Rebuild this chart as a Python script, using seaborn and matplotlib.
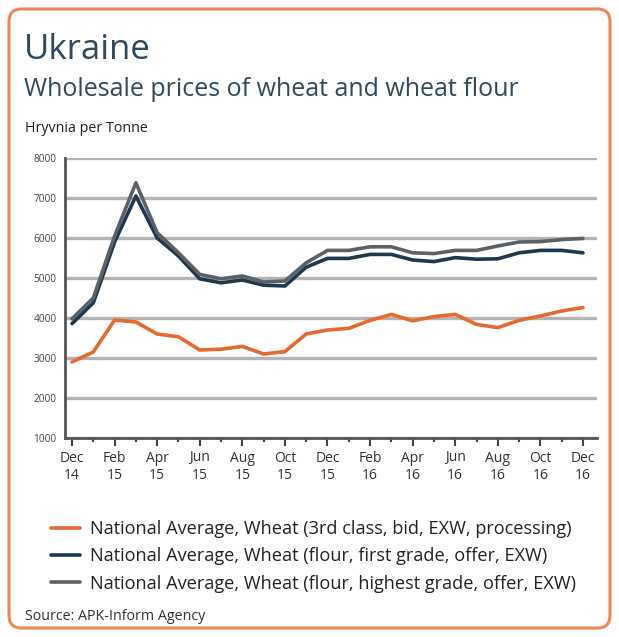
import pandas as pd
import numpy as np
import matplotlib
matplotlib.use("Agg")
import matplotlib.pyplot as plt
import seaborn as sns
from matplotlib.patches import FancyBboxPatch
from matplotlib.ticker import MultipleLocator

# monthly data, Dec 2014 .. Dec 2016 (Hryvnia per tonne)
months = pd.date_range("2014-12-01", "2016-12-01", freq="MS")
wheat_3rd = [2900, 3150, 3950, 3900, 3600, 3530, 3200, 3220, 3290, 3100, 3160, 3600,
             3700, 3740, 3940, 4090, 3930, 4035, 4090, 3840, 3760, 3940, 4050, 4175, 4260]
flour_first = [3860, 4380, 5900, 7050, 6000, 5550, 4980, 4880, 4950, 4820, 4800, 5270,
               5490, 5490, 5590, 5590, 5450, 5410, 5510, 5470, 5480, 5630, 5690, 5690, 5630]
flour_high = [3980, 4500, 6050, 7380, 6130, 5630, 5090, 4980, 5050, 4900, 4925, 5380,
              5690, 5690, 5780, 5780, 5630, 5610, 5690, 5690, 5800, 5900, 5910, 5960, 5990]
series_names = ["National Average, Wheat (3rd class, bid, EXW, processing)",
                "National Average, Wheat (flour, first grade, offer, EXW)",
                "National Average, Wheat (flour, highest grade, offer, EXW)"]
colors = ["#E8692F", "#1E3850", "#5C6067"]
tick_labels = ["Dec\n14", "Feb\n15", "Apr\n15", "Jun\n15", "Aug\n15", "Oct\n15", "Dec\n15",
               "Feb\n16", "Apr\n16", "Jun\n16", "Aug\n16", "Oct\n16", "Dec\n16"]

df = pd.DataFrame({"month": np.arange(len(months)),
                   series_names[0]: wheat_3rd,
                   series_names[1]: flour_first,
                   series_names[2]: flour_high})
long = df.melt(id_vars="month", var_name="series", value_name="price")

sns.set_style("white")
plt.rcParams["font.family"] = ["Open Sans", "DejaVu Sans"]

W, H = 619, 637
fig = plt.figure(figsize=(W / 100, H / 100), dpi=100)

# rounded orange frame
frame = FancyBboxPatch((9 / W, 9 / H), (W - 18) / W, (H - 18) / H,
                       boxstyle="round,pad=0,rounding_size=0.02",
                       transform=fig.transFigure, facecolor="white",
                       edgecolor="#EE8752", linewidth=2.2, zorder=-1)
fig.patches.append(frame)

ax = fig.add_axes([65 / W, 1 - 438 / H, (597 - 65) / W, (438 - 158) / H])
sns.lineplot(data=long, x="month", y="price", hue="series", palette=colors,
             linewidth=2.6, ax=ax, legend=False)
ax.set_xlim(-0.33, 24.66)
ax.set_ylim(1000, 8000)
ax.yaxis.set_major_locator(MultipleLocator(1000))
ax.set_xticks(range(0, 25, 2))
ax.set_xticklabels(tick_labels, fontsize=10, color="#333333", linespacing=1.25)
ax.set_xticks(range(1, 25, 2), minor=True)
ax.tick_params(axis="x", which="major", direction="out", length=6, width=1.5,
               color="#444444", pad=3, bottom=True)
ax.tick_params(axis="x", which="minor", direction="out", length=3, width=1.5,
               color="#444444", bottom=True)
ax.tick_params(axis="y", which="major", length=0, labelsize=7.3, labelcolor="#444444", pad=6)
ax.set_xlabel("")
ax.set_ylabel("")
ax.grid(axis="y", color="#B4B4B4", linewidth=2.4)
ax.set_axisbelow(True)
for s in ["top", "right"]:
    ax.spines[s].set_visible(False)
for s in ["left", "bottom"]:
    ax.spines[s].set_color("#555555")
    ax.spines[s].set_linewidth(2)

# titles
fig.text(24 / W, 1 - 50 / H, "Ukraine", fontsize=25, color="#2E4A5F", va="center")
fig.text(24 / W, 1 - 89 / H, "Wholesale prices of wheat and wheat flour",
         fontsize=18, color="#2E4A5F", va="center")
fig.text(25 / W, 1 - 128 / H, "Hryvnia per Tonne", fontsize=10.3, color="#1E1E1E", va="center")

# legend
handles = [plt.Line2D([], [], color=c, linewidth=2.6) for c in colors]
fig.legend(handles, series_names, loc="upper left", bbox_to_anchor=(35 / W, 1 - 504 / H),
           frameon=False, fontsize=13.1, handlelength=1.6, handletextpad=0.55,
           labelspacing=0.5, labelcolor="#222222")

fig.text(25 / W, 1 - 617 / H, "Source: APK-Inform Agency", fontsize=10.3, color="#333333",
         va="center")

fig.savefig("out.png", dpi=100)
